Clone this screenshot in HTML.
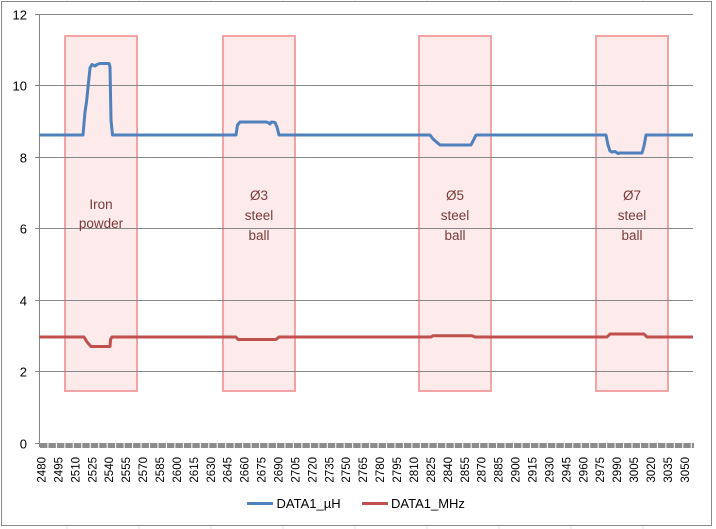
<!DOCTYPE html>
<html><head><meta charset="utf-8"><style>
html,body{margin:0;padding:0;background:#fff;}
svg{display:block;}
text{font-family:"Liberation Sans",Arial,sans-serif;}
</style></head><body>
<svg width="716" height="529" viewBox="0 0 716 529" xmlns="http://www.w3.org/2000/svg">
<!-- faint sheet grid outside chart -->
<g stroke="#e4e4e4" stroke-width="1">
<line x1="67" y1="0" x2="67" y2="529"/><line x1="139" y1="0" x2="139" y2="529"/><line x1="211" y1="0" x2="211" y2="529"/>
<line x1="283" y1="0" x2="283" y2="529"/><line x1="355" y1="0" x2="355" y2="529"/><line x1="427" y1="0" x2="427" y2="529"/>
<line x1="499" y1="0" x2="499" y2="529"/><line x1="571" y1="0" x2="571" y2="529"/><line x1="643" y1="0" x2="643" y2="529"/>
</g>
<rect x="1.5" y="1.5" width="710" height="524" fill="#fff" stroke="#8a8a8a" stroke-width="1"/>
<!-- rectangles -->
<g fill="#fdeaea" stroke="#f2a3a3" stroke-width="2">
<rect x="65" y="36" width="72" height="355"/>
<rect x="223" y="36" width="72" height="355"/>
<rect x="419" y="36" width="72" height="355"/>
<rect x="596" y="36" width="72" height="355"/>
</g>
<!-- gridlines -->
<g stroke="#868686" stroke-width="1">
<line x1="35" y1="14.5" x2="693" y2="14.5"/>
<line x1="35" y1="85.5" x2="693" y2="85.5"/>
<line x1="35" y1="157.5" x2="693" y2="157.5"/>
<line x1="35" y1="228.5" x2="693" y2="228.5"/>
<line x1="35" y1="300.5" x2="693" y2="300.5"/>
<line x1="35" y1="371.5" x2="693" y2="371.5"/>
<line x1="35" y1="443.5" x2="39" y2="443.5"/>
<line x1="39.5" y1="14" x2="39.5" y2="447"/>
</g>
<line x1="40" y1="445.5" x2="694" y2="445.5" stroke="#8c8c8c" stroke-width="5" stroke-dasharray="7.4 1.065"/>
<!-- y labels -->
<g font-size="13" fill="#000" text-anchor="end">
<text x="27" y="19.5">12</text>
<text x="27" y="90.5">10</text>
<text x="27" y="162.5">8</text>
<text x="27" y="233.5">6</text>
<text x="27" y="305.5">4</text>
<text x="27" y="376.5">2</text>
<text x="27" y="448.5">0</text>
</g>
<!-- x labels -->
<g font-size="11.5" fill="#000" text-anchor="end">
<text transform="translate(45.5,457) rotate(-90)">2480</text>
<text transform="translate(62.4,457) rotate(-90)">2495</text>
<text transform="translate(79.4,457) rotate(-90)">2510</text>
<text transform="translate(96.3,457) rotate(-90)">2525</text>
<text transform="translate(113.2,457) rotate(-90)">2540</text>
<text transform="translate(130.2,457) rotate(-90)">2555</text>
<text transform="translate(147.1,457) rotate(-90)">2570</text>
<text transform="translate(164.0,457) rotate(-90)">2585</text>
<text transform="translate(180.9,457) rotate(-90)">2600</text>
<text transform="translate(197.9,457) rotate(-90)">2615</text>
<text transform="translate(214.8,457) rotate(-90)">2630</text>
<text transform="translate(231.7,457) rotate(-90)">2645</text>
<text transform="translate(248.7,457) rotate(-90)">2660</text>
<text transform="translate(265.6,457) rotate(-90)">2675</text>
<text transform="translate(282.5,457) rotate(-90)">2690</text>
<text transform="translate(299.5,457) rotate(-90)">2705</text>
<text transform="translate(316.4,457) rotate(-90)">2720</text>
<text transform="translate(333.3,457) rotate(-90)">2735</text>
<text transform="translate(350.2,457) rotate(-90)">2750</text>
<text transform="translate(367.2,457) rotate(-90)">2765</text>
<text transform="translate(384.1,457) rotate(-90)">2780</text>
<text transform="translate(401.0,457) rotate(-90)">2795</text>
<text transform="translate(418.0,457) rotate(-90)">2810</text>
<text transform="translate(434.9,457) rotate(-90)">2825</text>
<text transform="translate(451.8,457) rotate(-90)">2840</text>
<text transform="translate(468.8,457) rotate(-90)">2855</text>
<text transform="translate(485.7,457) rotate(-90)">2870</text>
<text transform="translate(502.6,457) rotate(-90)">2885</text>
<text transform="translate(519.5,457) rotate(-90)">2900</text>
<text transform="translate(536.5,457) rotate(-90)">2915</text>
<text transform="translate(553.4,457) rotate(-90)">2930</text>
<text transform="translate(570.3,457) rotate(-90)">2945</text>
<text transform="translate(587.3,457) rotate(-90)">2960</text>
<text transform="translate(604.2,457) rotate(-90)">2975</text>
<text transform="translate(621.1,457) rotate(-90)">2990</text>
<text transform="translate(638.1,457) rotate(-90)">3005</text>
<text transform="translate(655.0,457) rotate(-90)">3020</text>
<text transform="translate(671.9,457) rotate(-90)">3035</text>
<text transform="translate(688.9,457) rotate(-90)">3050</text>
</g>
<!-- annotation text -->
<g font-size="13.5" fill="#7a3a3a" text-anchor="middle">
<text x="101" y="209">Iron</text>
<text x="101" y="228">powder</text>
<text x="259" y="200">Ø3</text>
<text x="259" y="220">steel</text>
<text x="259" y="240">ball</text>
<text x="455" y="200">Ø5</text>
<text x="455" y="220">steel</text>
<text x="455" y="240">ball</text>
<text x="632" y="200">Ø7</text>
<text x="632" y="220">steel</text>
<text x="632" y="240">ball</text>
</g>
<!-- series -->
<path d="M39,135 L83,135 L85,112 L86.5,102 L90,68 L92,64.5 L95,66 L97,64.5 L100,63.5 L109,63.5 L110,67 L111,120 L112.5,135 L236,135 L237.5,125 L240,122 L266,122 L268,122.5 L270,124 L271.5,122 L275,122.5 L277,127 L279,135 L430,135 L433,139 L440,145 L471,145 L474,139 L476,135 L606,135 L608,145 L610,151 L612,152 L615,151.5 L618,153.5 L620,153 L642,153 L644,146 L646,135 L693,135" fill="none" stroke="#4f81bd" stroke-width="3" stroke-linejoin="round"/>
<path d="M39,337 L84,337 L87,342 L91,346.5 L110,346.5 L110.5,339.5 L112,337 L236,337 L238,339.5 L276,339.5 L279,337 L431,337 L433,335.7 L472,335.7 L475,337 L607,337 L610,334 L644,334 L647,337 L693,337" fill="none" stroke="#c0504d" stroke-width="3" stroke-linejoin="round"/>
<!-- legend -->
<line x1="247" y1="503.5" x2="273" y2="503.5" stroke="#4f81bd" stroke-width="3"/>
<text x="276.5" y="508" font-size="13" fill="#000">DATA1_µH</text>
<line x1="362" y1="503.5" x2="388" y2="503.5" stroke="#c0504d" stroke-width="3"/>
<text x="391" y="508" font-size="13" fill="#000">DATA1_MHz</text>
</svg>
</body></html>
